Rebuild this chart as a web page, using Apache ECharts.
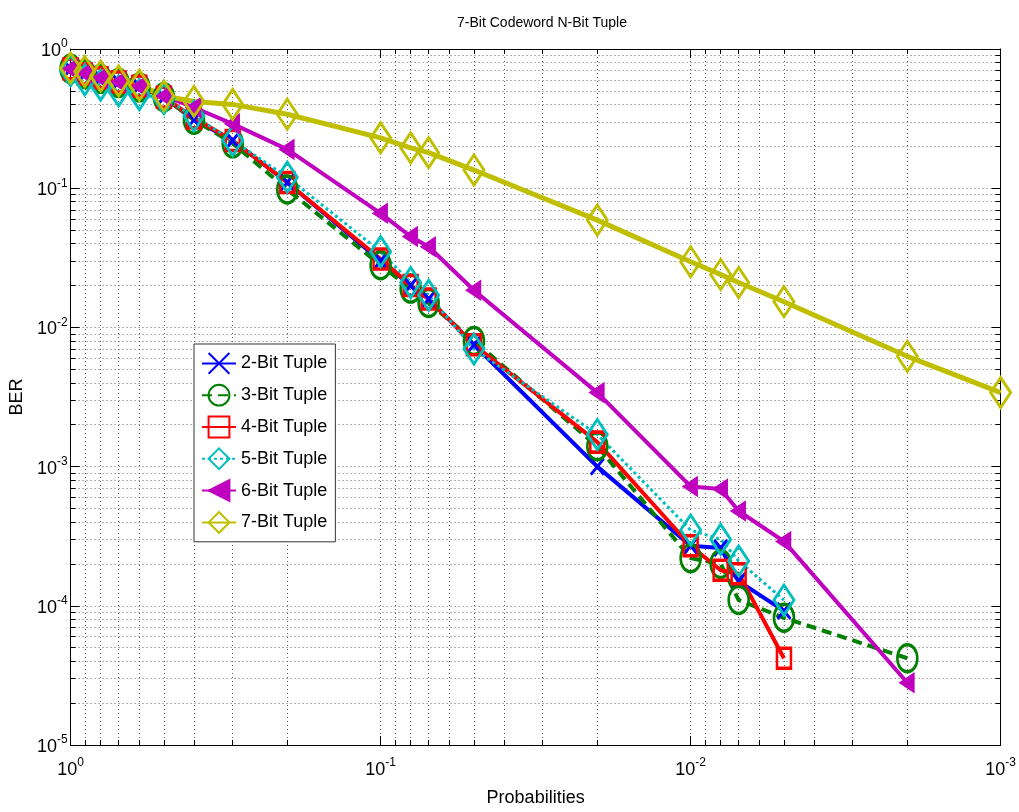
<!DOCTYPE html>
<html>
<head>
<meta charset="utf-8">
<script src="https://cdn.jsdelivr.net/npm/echarts@6/dist/echarts.min.js"></script>
<style>
html,body{margin:0;padding:0;background:#fff;}
#chart{width:1019px;height:812px;}
</style>
</head>
<body>
<div id="chart"></div>
<script>
// Probabilities (x values)
const probs = [1, 0.9, 0.8, 0.7, 0.6, 0.5, 0.4, 0.3, 0.2, 0.1, 0.08, 0.07, 0.05, 0.02, 0.01, 0.008, 0.007, 0.005, 0.002, 0.001];
// BER per tuple size
const ber2 = [0.72, 0.66, 0.62, 0.58, 0.54, 0.45, 0.31, 0.22, 0.11, 0.030, 0.020, 0.016, 0.0075, 0.00100, 0.00027, 0.00026, 0.00015, 0.000092];
const ber3 = [0.72, 0.66, 0.61, 0.57, 0.53, 0.45, 0.31, 0.21, 0.098, 0.028, 0.019, 0.015, 0.0080, 0.00140, 0.00022, 0.00020, 0.00011, 0.000082, 0.000042];
const ber4 = [0.72, 0.66, 0.62, 0.58, 0.54, 0.45, 0.32, 0.22, 0.11, 0.031, 0.020, 0.016, 0.0075, 0.00150, 0.00027, 0.00018, 0.00017, 0.000042];
const ber5 = [0.70, 0.60, 0.55, 0.50, 0.47, 0.44, 0.33, 0.22, 0.12, 0.035, 0.021, 0.017, 0.0070, 0.00170, 0.00035, 0.00030, 0.00021, 0.00011];
const ber6 = [0.72, 0.67, 0.62, 0.58, 0.54, 0.46, 0.38, 0.29, 0.19, 0.066, 0.045, 0.038, 0.0185, 0.0034, 0.00072, 0.00069, 0.00048, 0.00029, 0.000028];
const ber7 = [0.73, 0.69, 0.64, 0.59, 0.55, 0.46, 0.42, 0.40, 0.34, 0.23, 0.195, 0.18, 0.135, 0.059, 0.0296, 0.024, 0.021, 0.0153, 0.0062, 0.0034];
const seriesNames = ['2-Bit Tuple', '3-Bit Tuple', '4-Bit Tuple', '5-Bit Tuple', '6-Bit Tuple', '7-Bit Tuple'];
const titleText = '7-Bit Codeword N-Bit Tuple';
const xName = 'Probabilities';
const yName = 'BER';

const FONT = '"Liberation Sans", Arial, sans-serif';
function pairs(arr) { return arr.map((v, i) => [probs[i], v]); }
function powLabel(v) {
  const e = Math.round(Math.log10(v));
  return '{b|10}{s|' + e + '}';
}
const richLbl = {
  b: { fontSize: 18, fontFamily: FONT, color: '#000', lineHeight: 22, verticalAlign: 'bottom' },
  s: { fontSize: 12, fontFamily: FONT, color: '#000', lineHeight: 22, verticalAlign: 'top', padding: [0, 0, 8, 0] }
};
const gridLine = { show: true, lineStyle: { color: '#666', type: [1, 3], width: 1 } };

function mkSeries(name, data, color, symbol, size, lineType, lineWidth, filled) {
  return {
    name: name, type: 'line', data: pairs(data),
    symbol: symbol, symbolSize: size, clip: false,
    lineStyle: { color: color, width: lineWidth, type: lineType },
    itemStyle: { color: filled ? color : 'rgba(0,0,0,0)', borderColor: color, borderWidth: 3 },
    emphasis: { disabled: true },
    animation: false
  };
}

const chart = echarts.init(document.getElementById('chart'), null, { renderer: 'canvas' });
const option = {
  backgroundColor: '#fff',
  animation: false,
  title: {
    text: titleText, left: 537, top: 11, textAlign: 'center',
    textStyle: { fontFamily: FONT, fontSize: 14, fontWeight: 'normal', color: '#000' }
  },
  grid: { left: 70, right: 16, top: 49, bottom: 66, containLabel: false },
  legend: {
    orient: 'vertical', left: 194, top: 344,
    data: seriesNames,
    itemWidth: 34, itemHeight: 26, itemGap: 9,
    padding: [8, 8, 8, 7],
    backgroundColor: '#fff', borderColor: '#333', borderWidth: 1, borderRadius: 0,
    textStyle: { fontFamily: FONT, fontSize: 18, color: '#000' },
    selectedMode: false
  },
  xAxis: [{
    type: 'log', inverse: true, min: 0.001, max: 1, logBase: 10,
    name: xName, nameLocation: 'middle', nameGap: 44,
    nameTextStyle: { fontFamily: FONT, fontSize: 18, color: '#000' },
    axisLine: { show: true, onZero: false, lineStyle: { color: '#000', width: 1 } },
    axisTick: { show: true, inside: true, length: 9, lineStyle: { color: '#000' } },
    minorTick: { show: true, splitNumber: 9, length: 5, lineStyle: { color: '#000' } },
    axisLabel: { formatter: powLabel, rich: richLbl, margin: 12 },
    splitLine: gridLine,
    minorSplitLine: gridLine
  }, {
    type: 'log', inverse: true, min: 0.001, max: 1, logBase: 10, position: 'top',
    axisLine: { show: true, onZero: false, lineStyle: { color: '#000', width: 1 } },
    axisTick: { show: true, inside: true, length: 9, lineStyle: { color: '#000' } },
    minorTick: { show: true, splitNumber: 9, length: 5, lineStyle: { color: '#000' } },
    axisLabel: { show: false }, splitLine: { show: false }
  }],
  yAxis: [{
    type: 'log', min: 1e-5, max: 1, logBase: 10,
    name: yName, nameLocation: 'middle', nameGap: 36, nameRotate: 90,
    nameTextStyle: { fontFamily: FONT, fontSize: 18, color: '#000' },
    axisLine: { show: true, onZero: false, lineStyle: { color: '#000', width: 1 } },
    axisTick: { show: true, inside: true, length: 9, lineStyle: { color: '#000' } },
    minorTick: { show: true, splitNumber: 9, length: 5, lineStyle: { color: '#000' } },
    axisLabel: { formatter: powLabel, rich: richLbl, margin: 3 },
    splitLine: gridLine,
    minorSplitLine: gridLine
  }, {
    type: 'log', min: 1e-5, max: 1, logBase: 10, position: 'right',
    axisLine: { show: true, onZero: false, lineStyle: { color: '#000', width: 1 } },
    axisTick: { show: true, inside: true, length: 9, lineStyle: { color: '#000' } },
    minorTick: { show: true, splitNumber: 9, length: 5, lineStyle: { color: '#000' } },
    axisLabel: { show: false }, splitLine: { show: false }
  }],
  series: [
    mkSeries(seriesNames[0], ber2, '#0000ff', 'path://M0,0 L10,10 M10,0 L0,10', [13, 16], 'solid', 4, false),
    mkSeries(seriesNames[1], ber3, '#008000', 'circle', [20, 27], [10, 6], 4, false),
    mkSeries(seriesNames[2], ber4, '#ff0000', 'rect', [14, 20], 'solid', 4, false),
    mkSeries(seriesNames[3], ber5, '#00bfbf', 'diamond', [20, 30], [3, 3], 3, false),
    mkSeries(seriesNames[4], ber6, '#bf00bf', 'path://M0,5 L10,0 L10,10 Z', [12, 16], 'solid', 4, true),
    mkSeries(seriesNames[5], ber7, '#bfbf00', 'diamond', [20, 30], 'solid', 5, false)
  ]
};
chart.setOption(option);
</script>
</body>
</html>
